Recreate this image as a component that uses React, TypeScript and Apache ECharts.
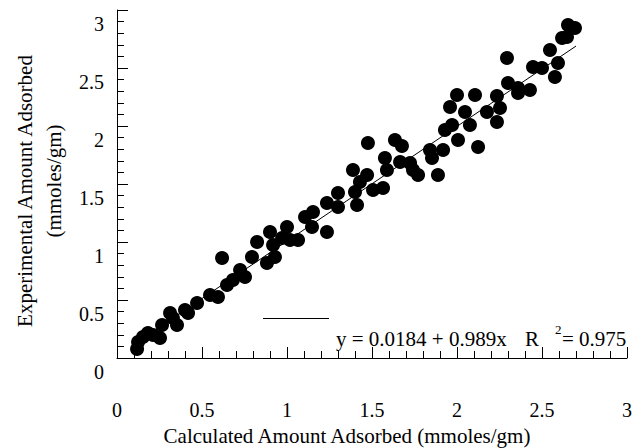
import React, { useEffect, useRef } from 'react';
import * as echarts from 'echarts';

// Calculated amount adsorbed (x) vs experimental amount adsorbed (y), mmoles/gm
const calcX = [
  0.118, 0.124, 0.153, 0.182, 0.212, 0.253, 0.265, 0.312, 0.329, 0.353,
  0.400, 0.418, 0.471, 0.547, 0.594, 0.618, 0.647, 0.682, 0.724, 0.753,
  0.794, 0.824, 0.882, 0.900, 0.918, 0.929, 0.971, 1.000, 1.018, 1.065,
  1.106, 1.153, 1.147, 1.235, 1.235, 1.300, 1.300, 1.388, 1.400, 1.412,
  1.429, 1.471, 1.506, 1.476, 1.576, 1.565, 1.588, 1.635, 1.676, 1.665,
  1.724, 1.741, 1.771, 1.841, 1.853, 1.888, 1.918, 1.929, 1.971, 2.006,
  1.959, 2.000, 2.047, 2.076, 2.106, 2.124, 2.176, 2.235, 2.253, 2.235,
  2.294, 2.300, 2.359, 2.359, 2.429, 2.447, 2.500, 2.547, 2.594, 2.576,
  2.618, 2.647, 2.653, 2.694,
];
const expY = [
  0.078, 0.138, 0.181, 0.216, 0.198, 0.172, 0.284, 0.388, 0.345, 0.284,
  0.414, 0.388, 0.474, 0.543, 0.526, 0.862, 0.629, 0.672, 0.759, 0.698,
  0.871, 1.000, 0.819, 1.086, 0.974, 0.871, 1.034, 1.129, 1.017, 1.017,
  1.216, 1.259, 1.129, 1.086, 1.336, 1.302, 1.422, 1.621, 1.431, 1.319,
  1.517, 1.578, 1.448, 1.853, 1.724, 1.466, 1.621, 1.879, 1.828, 1.690,
  1.681, 1.621, 1.578, 1.793, 1.724, 1.578, 1.793, 1.966, 2.009, 1.879,
  2.164, 2.267, 2.121, 2.009, 2.267, 1.819, 2.121, 2.259, 2.155, 2.034,
  2.586, 2.371, 2.328, 2.284, 2.310, 2.509, 2.500, 2.655, 2.543, 2.422,
  2.759, 2.767, 2.871, 2.845,
];

// Fitted line end points
const fitX = [0.11, 2.70];
const fitY = [0.127, 2.689];

const xTickLabels = ['0', '0.5', '1', '1.5', '2', '2.5', '3'];
const yTickLabels = ['0', '0.5', '1', '1.5', '2', '2.5', '3'];

const xTitle = 'Calculated Amount Adsorbed (mmoles/gm)';
const yTitle1 = 'Experimental Amount Adsorbed';
const yTitle2 = '(mmoles/gm)';
const eqMain = 'y = 0.0184 + 0.989x';
const eqR = 'R';
const eqSup = '2';
const eqVal = '= 0.975';

const FONT = '"Liberation Serif", "Times New Roman", serif';

export default function App() {
  const ref = useRef<HTMLDivElement>(null);

  useEffect(() => {
    if (!ref.current) return;
    const chart = echarts.init(ref.current, null, { renderer: 'svg' });
    const tickIndex = (v: number) => Math.round(v / 0.5);

    const axisCommon = {
      type: 'value' as const,
      min: 0,
      max: 3,
      interval: 0.5,
      axisLine: { show: true, onZero: false, lineStyle: { color: '#000', width: 1 } },
      axisTick: { show: true, inside: true, length: 11, lineStyle: { color: '#000', width: 1 } },
      minorTick: { show: true, splitNumber: 5, length: 7, lineStyle: { color: '#000', width: 1 } },
      splitLine: { show: false },
      minorSplitLine: { show: false },
    };

    chart.setOption({
      animation: false,
      backgroundColor: '#fff',
      grid: { left: 117, top: 10, width: 510, height: 348, containLabel: false },
      xAxis: {
        ...axisCommon,
        axisLabel: {
          margin: 42,
          fontFamily: FONT,
          fontSize: 20,
          color: '#000',
          formatter: (v: number) => xTickLabels[tickIndex(v)] ?? '',
        },
      },
      yAxis: {
        ...axisCommon,
        axisLabel: {
          margin: 13,
          fontFamily: FONT,
          fontSize: 20,
          color: '#000',
          verticalAlign: 'top',
          lineHeight: 28,
          formatter: (v: number) => yTickLabels[tickIndex(v)] ?? '',
        },
      },
      series: [
        {
          type: 'scatter',
          data: calcX.map((x, i) => [x, expY[i]]),
          symbol: 'circle',
          symbolSize: 14,
          itemStyle: { color: '#000', opacity: 1 },
          z: 2,
        },
        {
          type: 'line',
          data: fitX.map((x, i) => [x, fitY[i]]),
          showSymbol: false,
          symbol: 'none',
          lineStyle: { color: '#000', width: 1 },
          z: 3,
        },
      ],
      graphic: [
        {
          type: 'line',
          shape: { x1: 263, y1: 318.5, x2: 329, y2: 318.5 },
          style: { stroke: '#000', lineWidth: 1 },
        },
        {
          type: 'text',
          style: { text: eqMain, x: 336, y: 339, font: `21px ${FONT}`, fill: '#000', align: 'left', verticalAlign: 'middle' },
        },
        {
          type: 'text',
          style: { text: eqR, x: 525, y: 339, font: `21px ${FONT}`, fill: '#000', align: 'left', verticalAlign: 'middle' },
        },
        {
          type: 'text',
          style: { text: eqSup, x: 555, y: 329, font: `13px ${FONT}`, fill: '#000', align: 'left', verticalAlign: 'middle' },
        },
        {
          type: 'text',
          style: { text: eqVal, x: 562, y: 339, font: `21px ${FONT}`, fill: '#000', align: 'left', verticalAlign: 'middle' },
        },
        {
          type: 'text',
          style: { text: xTitle, x: 347, y: 436, font: `21px ${FONT}`, fill: '#000', align: 'center', verticalAlign: 'middle' },
        },
        {
          type: 'text',
          x: 25,
          y: 191,
          rotation: Math.PI / 2,
          style: { text: yTitle1, x: 0, y: 0, font: `21px ${FONT}`, fill: '#000', align: 'center', verticalAlign: 'middle' },
        },
        {
          type: 'text',
          x: 54,
          y: 181,
          rotation: Math.PI / 2,
          style: { text: yTitle2, x: 0, y: 0, font: `21px ${FONT}`, fill: '#000', align: 'center', verticalAlign: 'middle' },
        },
      ],
    });

    return () => chart.dispose();
  }, []);

  return (
    <div
      ref={ref}
      style={{ position: 'fixed', left: 0, top: 0, width: 642, height: 448, background: '#fff' }}
    />
  );
}
